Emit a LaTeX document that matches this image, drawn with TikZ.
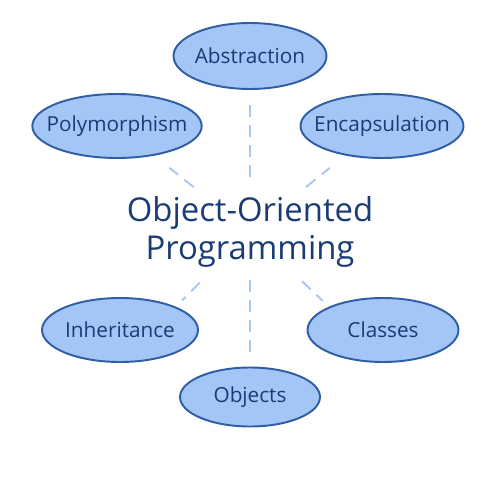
\documentclass[tikz,border=0pt]{standalone}
\usepackage{fontspec}
\setsansfont{Open Sans}
\usetikzlibrary{shapes.geometric}

\definecolor{bubblefill}{HTML}{A3C6F6}
\definecolor{bubbleline}{HTML}{2F5EA5}
\definecolor{inktext}{HTML}{1A3B74}
\definecolor{linkline}{HTML}{A9C6EE}

\begin{document}
\begin{tikzpicture}[
            x=0.02cm, y=-0.02cm,
            concept/.style={ellipse, draw=bubbleline, line width=1.1pt, fill=bubblefill, text=inktext, inner xsep=-6pt, inner ysep=0pt, minimum height=1.28cm, font=\sffamily\fontsize{11.8}{14}\selectfont},
            link/.style={draw=linkline, line width=1.1pt, dash pattern=on 0.24cm off 0.16cm},
            diag/.style={link, shorten <=1.44cm, shorten >=1.34cm}
        ]
            \useasboundingbox (0,0) rectangle (500,500);

            % central topic
            \node[align=center, text=inktext, inner sep=2pt, font=\sffamily\fontsize{18.7}{22}\selectfont] (oop) at (250,232) {Object-Oriented\\Programming};

            % the six concepts
            \node[concept, minimum width=3.06cm, minimum height=1.32cm] (abs) at (250,56) {Abstraction};
            \node[concept, minimum width=3.28cm] (poly) at (117,126) {Polymorphism};
            \node[concept, minimum width=3.26cm] (encap) at (382,126) {Encapsulation};
            \node[concept, minimum width=3.12cm] (inh) at (120,330) {Inheritance};
            \node[concept, minimum width=3.02cm] (cls) at (383,330) {Classes};
            \node[concept, minimum width=2.80cm, minimum height=1.18cm] (obj) at (250,397) {Objects};

            % dashed links
            \draw[link, shorten <=1.1cm, shorten >=0.92cm] (oop.center) -- (abs.center);
            \draw[link, shorten <=0.96cm, shorten >=0.88cm] (oop.center) -- (obj.center);
            \draw[diag] (oop.center) -- (poly.center);
            \draw[diag] (oop.center) -- (encap.center);
            \draw[link, shorten <=1.43cm, shorten >=0.18cm] (oop.center) -- (inh.north east);
            \draw[link, shorten <=1.43cm, shorten >=0.17cm] (oop.center) -- (cls.north west);
          \end{tikzpicture}
\end{document}
